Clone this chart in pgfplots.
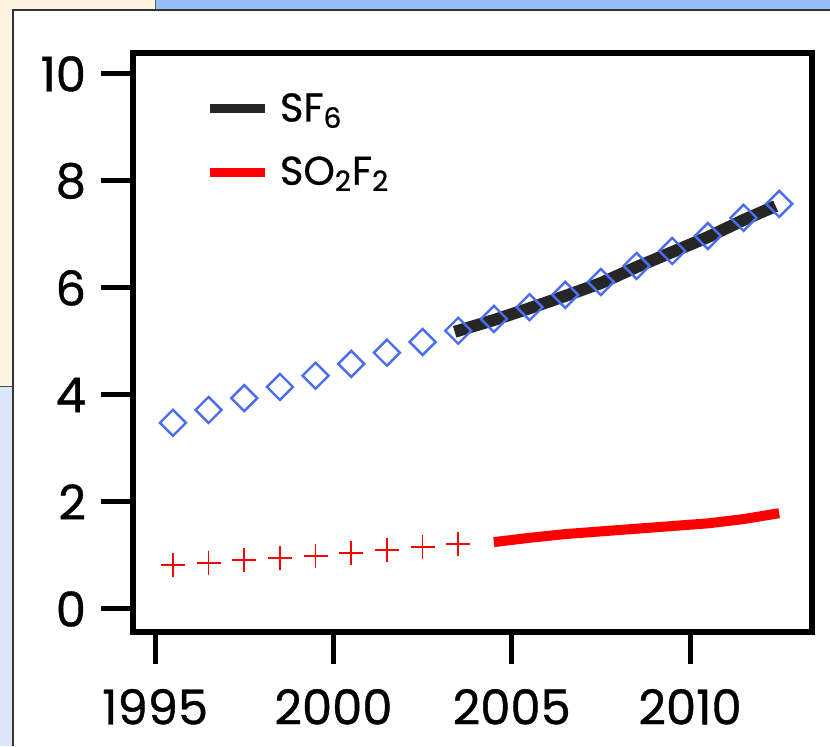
\documentclass[border=0pt]{standalone}
\usepackage{fontspec}
\setmainfont{Poppins}[FakeBold=0.8]
\usepackage{pgfplots}
\pgfplotsset{compat=1.18}
\definecolor{diamblue}{HTML}{4A6EF0}
\definecolor{beige}{HTML}{FDF4E2}
\definecolor{paleblue}{HTML}{DDE7FA}
\definecolor{topblue}{HTML}{98BCFA}
\begin{document}
\begin{tikzpicture}[x=1pt,y=1pt]
\useasboundingbox (0,0) rectangle (415,373);
\fill[beige] (0,180) rectangle (77.5,373);
\fill[paleblue] (0,0) rectangle (6.5,180);
\fill[topblue] (77.5,368) rectangle (415,373);
\draw[gray!70!black, line width=0.4pt] (77.5,368) -- (77.5,373);
\fill[white] (6.5,0) rectangle (415,368);
\draw[black!80, line width=0.6pt] (6.5,0) -- (6.5,368) -- (415,368);
\draw[black!70, line width=0.4pt] (0,180) -- (6.5,180);
\begin{axis}[
  at={(66.5pt,57pt)}, anchor=south west,
  scale only axis, width=339.5pt, height=289.5pt,
  xmin=1994.38, xmax=2013.42, ymin=-0.43, ymax=10.39,
  axis line style={line width=3pt},
  xtick={1995,2000,2005,2010}, ytick={0,2,4,6,8,10},
  xticklabels={1995,2000,2005,2010},
  yticklabels={0,2,4,6,8,10},
  tick align=outside, tick pos=left,
  major tick length=16pt,
  every tick/.style={black, line width=2.5pt},
  tick label style={font=\fontsize{24}{27}\selectfont},
  xticklabel style={yshift=-9pt},
  yticklabel style={xshift=-4pt},
  clip=false,
  legend style={draw=none, fill=none, at={(0.098,0.945)}, anchor=north west,
    font=\fontsize{20}{23}\selectfont, row sep=12pt,
    /tikz/every even column/.append style={column sep=4pt},
    /tikz/every odd column/.append style={column sep=3pt}},
  legend cell align=left,
]
\addplot[only marks, mark=square, mark size=4.6pt, diamblue, mark options={line width=1.2pt, rotate=45}, forget plot] coordinates {
(1995.5,3.48) (1996.5,3.72) (1997.5,3.94) (1998.5,4.15) (1999.5,4.36)
(2000.5,4.58) (2001.5,4.79) (2002.5,4.99) (2003.5,5.20) (2004.5,5.42)
(2005.5,5.64) (2006.5,5.87) (2007.5,6.11) (2008.5,6.41) (2009.5,6.69)
(2010.5,6.97) (2011.5,7.31) (2012.5,7.57)};
\addplot[only marks, mark=+, mark size=6pt, red, mark options={line width=0.8pt}, forget plot] coordinates {
(1995.5,0.82) (1996.5,0.86) (1997.5,0.92) (1998.5,0.95) (1999.5,0.99)
(2000.5,1.05) (2001.5,1.10) (2002.5,1.16) (2003.5,1.21)};
\addplot[black!85, line width=6pt, no marks,
  legend image code/.code={\draw[black!85, line width=4.5pt] (0pt,0pt) -- (27.5pt,0pt);}] coordinates {
(2003.4,5.18) (2004.5,5.40) (2005.5,5.62) (2006.5,5.85) (2007.5,6.09)
(2008.5,6.39) (2009.5,6.67) (2010.5,6.95) (2011.5,7.27) (2012.4,7.53)};
\addlegendentry{SF\textsubscript{6}}
\addplot[red, line width=5pt, no marks,
  legend image code/.code={\draw[red, line width=4.5pt] (0pt,0pt) -- (27.5pt,0pt);}] coordinates {
(2004.5,1.25) (2005.5,1.33) (2006.5,1.40) (2007.5,1.45) (2008.5,1.50)
(2009.5,1.55) (2010.5,1.60) (2011.5,1.68) (2012.5,1.79)};
\addlegendentry{SO\textsubscript{2}F\textsubscript{2}}
\end{axis}
\end{tikzpicture}
\end{document}
